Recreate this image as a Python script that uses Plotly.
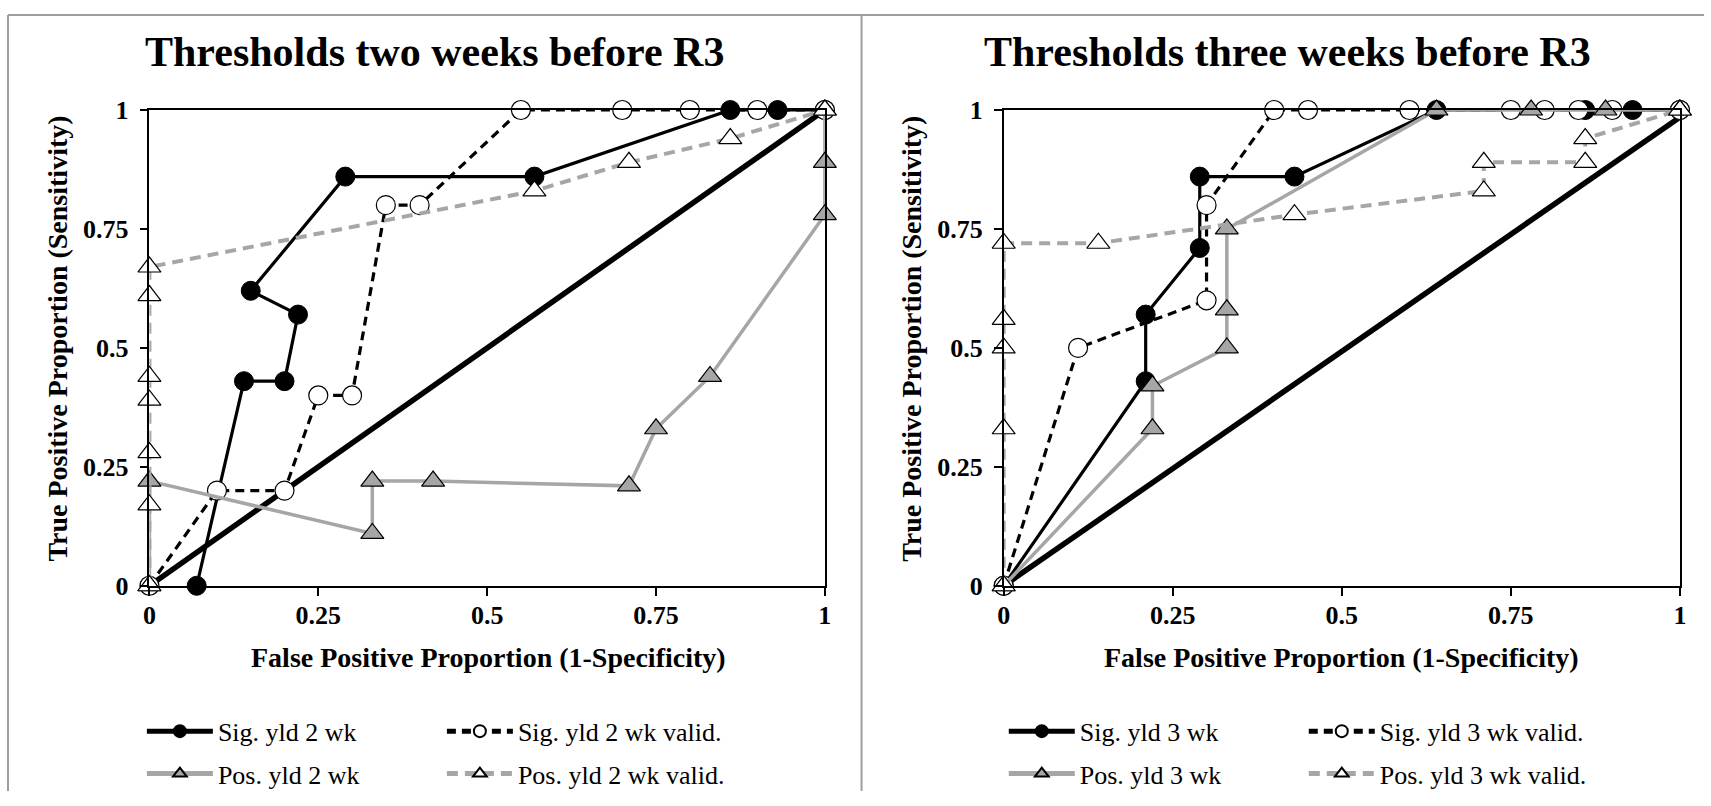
import plotly.graph_objects as go

# ---------------- data: two weeks before R3 ----------------
sig2_x = [0.07, 0.14, 0.20, 0.22, 0.15, 0.29, 0.57, 0.86, 0.93, 1.0]
sig2_y = [0.00, 0.43, 0.43, 0.57, 0.62, 0.86, 0.86, 1.00, 1.00, 1.0]
sigv2_x = [0.0, 0.10, 0.20, 0.25, 0.30, 0.35, 0.40, 0.55, 0.70, 0.80, 0.90, 1.0]
sigv2_y = [0.0, 0.20, 0.20, 0.40, 0.40, 0.80, 0.80, 1.00, 1.00, 1.00, 1.00, 1.0]
pos2_x = [0.0, 0.0, 0.33, 0.33, 0.42, 0.71, 0.75, 0.83, 1.0, 1.0, 1.0]
pos2_y = [0.0, 0.22, 0.11, 0.22, 0.22, 0.21, 0.33, 0.44, 0.78, 0.89, 1.0]
posv2_x = [0.0, 0.0, 0.0, 0.0, 0.0, 0.0, 0.0, 0.57, 0.71, 0.86, 1.0]
posv2_y = [0.0, 0.17, 0.28, 0.39, 0.44, 0.61, 0.67, 0.83, 0.89, 0.94, 1.0]
diag2_x = [0.0, 1.0]
diag2_y = [0.0, 1.0]

# ---------------- data: three weeks before R3 ----------------
sig3_x = [0.0, 0.21, 0.21, 0.29, 0.29, 0.43, 0.64, 0.86, 0.93, 1.0]
sig3_y = [0.0, 0.43, 0.57, 0.71, 0.86, 0.86, 1.00, 1.00, 1.00, 1.0]
sigv3_x = [0.0, 0.11, 0.30, 0.30, 0.40, 0.45, 0.60, 0.75, 0.80, 0.85, 0.90, 1.0]
sigv3_y = [0.0, 0.50, 0.60, 0.80, 1.00, 1.00, 1.00, 1.00, 1.00, 1.00, 1.00, 1.0]
pos3_x = [0.0, 0.22, 0.22, 0.33, 0.33, 0.33, 0.64, 0.78, 0.89, 1.0]
pos3_y = [0.0, 0.33, 0.42, 0.50, 0.58, 0.75, 1.00, 1.00, 1.00, 1.0]
posv3_x = [0.0, 0.0, 0.0, 0.0, 0.0, 0.14, 0.43, 0.71, 0.71, 0.86, 0.86, 1.0]
posv3_y = [0.0, 0.33, 0.50, 0.56, 0.72, 0.72, 0.78, 0.83, 0.89, 0.89, 0.94, 1.0]
diag3_x = [0.0, 1.0]
diag3_y = [0.0, 0.985]

tick_vals = [0, 0.25, 0.5, 0.75, 1]
tick_text = ["0", "0.25", "0.5", "0.75", "1"]

titles = ["Thresholds two weeks before R3", "Thresholds three weeks before R3"]
x_title = "False Positive Proportion (1-Specificity)"
y_title = "True Positive Proportion (Sensitivity)"
names2 = ["Sig. yld 2 wk", "Sig. yld 2 wk valid.", "Pos. yld 2 wk", "Pos. yld 2 wk valid."]
names3 = ["Sig. yld 3 wk", "Sig. yld 3 wk valid.", "Pos. yld 3 wk", "Pos. yld 3 wk valid."]

FONT = "Liberation Serif"
GRAY = "#a6a6a6"
W, H = 1711, 806

fig = go.Figure()


def add_panel(xa, ya, sx, sy, svx, svy, px, py, pvx, pvy, dx, dy, names, leg_a, leg_b):
    common = dict(xaxis=xa, yaxis=ya, cliponaxis=False)
    fig.add_trace(go.Scatter(x=dx, y=dy, mode="lines", showlegend=False, hoverinfo="skip",
                             line=dict(color="black", width=5.5), **common))
    fig.add_trace(go.Scatter(x=sx, y=sy, mode="lines+markers", name=names[0], legend=leg_a,
                             line=dict(color="black", width=3.2),
                             marker=dict(symbol="circle", size=19, color="black",
                                         line=dict(color="black", width=1)), **common))
    fig.add_trace(go.Scatter(x=svx, y=svy, mode="lines+markers", name=names[1], legend=leg_a,
                             line=dict(color="black", width=3.2, dash="9px,6px"),
                             marker=dict(symbol="circle", size=19, color="white",
                                         line=dict(color="black", width=1.2)), **common))
    fig.add_trace(go.Scatter(x=px, y=py, mode="lines+markers", name=names[2], legend=leg_b,
                             line=dict(color=GRAY, width=3.5),
                             marker=dict(symbol="triangle-up", size=20, color=GRAY,
                                         line=dict(color="black", width=1.2)), **common))
    fig.add_trace(go.Scatter(x=pvx, y=pvy, mode="lines+markers", name=names[3], legend=leg_b,
                             line=dict(color=GRAY, width=4, dash="11px,7px"),
                             marker=dict(symbol="triangle-up", size=20, color="white",
                                         line=dict(color="black", width=1.2)), **common))


add_panel("x", "y", sig2_x, sig2_y, sigv2_x, sigv2_y, pos2_x, pos2_y, posv2_x, posv2_y,
          diag2_x, diag2_y, names2, "legend", "legend2")
add_panel("x2", "y2", sig3_x, sig3_y, sigv3_x, sigv3_y, pos3_x, pos3_y, posv3_x, posv3_y,
          diag3_x, diag3_y, names3, "legend3", "legend4")

ydom = [1 - 593.1 / H, 1 - 99.6 / H]
xdom1 = [143.6 / W, 824.6 / W]
xdom2 = [1004.9 / W, 1686.7 / W]

ax_common = dict(range=[0, 1], showline=True, linecolor="black", linewidth=1.5, mirror=True,
                 ticks="outside", ticklen=8, tickwidth=1.5, tickcolor="black",
                 showgrid=False, zeroline=False, tickvals=tick_vals, ticktext=tick_text,
                 tickfont=dict(family=FONT, size=26, color="black", weight="bold"),
                 fixedrange=True)

leg_common = dict(orientation="h", xanchor="left", yanchor="middle",
                  font=dict(family=FONT, size=26, color="black"),
                  bgcolor="rgba(0,0,0,0)", entrywidth=219, entrywidthmode="pixels",
                  traceorder="normal", itemwidth=66, itemsizing="constant")

row1 = 1 - 744 / H
row2 = 1 - 788 / H

fig.update_layout(
    width=W, height=H, margin=dict(l=0, r=0, t=0, b=0),
    paper_bgcolor="white", plot_bgcolor="white",
    xaxis=dict(domain=xdom1, anchor="y", ticklabelstandoff=-3, **ax_common),
    yaxis=dict(domain=ydom, anchor="x", ticklabelstandoff=6, **ax_common),
    xaxis2=dict(domain=xdom2, anchor="y2", ticklabelstandoff=-3, **ax_common),
    yaxis2=dict(domain=ydom, anchor="x2", ticklabelstandoff=6, **ax_common),
    legend=dict(x=136 / W, y=row1, **leg_common),
    legend2=dict(x=136 / W, y=row2, **leg_common),
    legend3=dict(x=1005 / W, y=row1, **leg_common),
    legend4=dict(x=1005 / W, y=row2, **leg_common),
)

annotations = []
for cx, txt in [(431 / W, titles[0]), (1291 / W, titles[1])]:
    annotations.append(dict(x=cx, y=1 - 39.5 / H, xref="paper", yref="paper", text="<b>" + txt + "</b>",
                            showarrow=False, xanchor="center", yanchor="middle",
                            font=dict(family=FONT, size=42, color="black")))
for cx in [485.6 / W, 1345.7 / W]:
    annotations.append(dict(x=cx, y=1 - 667.7 / H, xref="paper", yref="paper", text="<b>" + x_title + "</b>",
                            showarrow=False, xanchor="center", yanchor="middle",
                            font=dict(family=FONT, size=28, color="black")))
for cx in [50.6 / W, 911.9 / W]:
    annotations.append(dict(x=cx, y=1 - 336.5 / H, xref="paper", yref="paper", text="<b>" + y_title + "</b>",
                            showarrow=False, xanchor="center", yanchor="middle", textangle=-90,
                            font=dict(family=FONT, size=28, color="black")))
fig.update_layout(annotations=annotations)

# chart frames (outer gray borders and divider)
border = dict(color="#9e9e9e", width=2)
fig.add_shape(type="line", xref="paper", yref="paper", x0=1 / W, x1=1, y0=1 - 1 / H, y1=1 - 1 / H, line=border)
fig.add_shape(type="line", xref="paper", yref="paper", x0=1 / W, x1=1 / W, y0=0, y1=1 - 1 / H, line=border)
fig.add_shape(type="line", xref="paper", yref="paper", x0=861.6 / W, x1=861.6 / W, y0=0, y1=1 - 1 / H, line=border)

fig.write_html("out.html", config={"displayModeBar": False})
